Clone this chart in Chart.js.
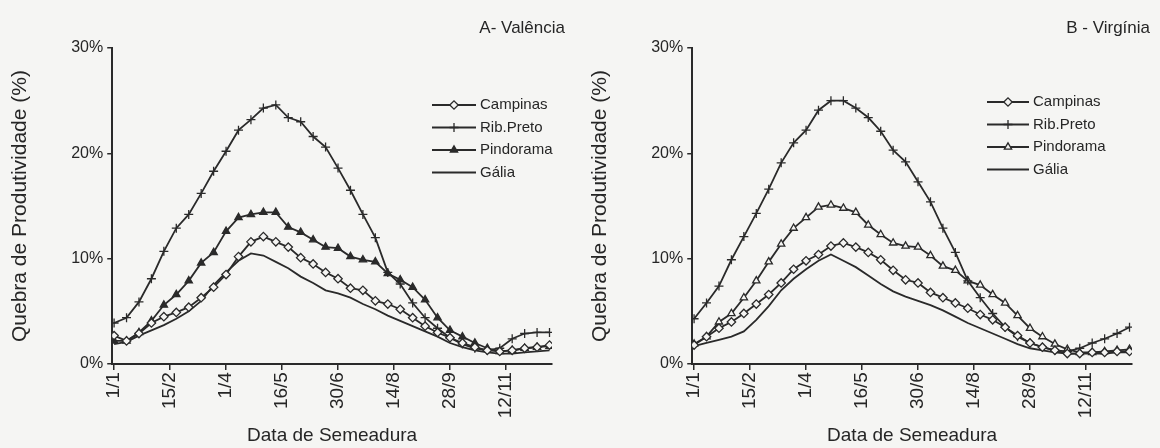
<!DOCTYPE html>
<html><head><meta charset="utf-8">
<script src="https://cdn.jsdelivr.net/npm/chart.js@4.4.1/dist/chart.umd.min.js"></script>
<style>
html,body{margin:0;padding:0;background:#f5f5f3;}
#wrap{display:flex;width:1160px;height:448px;}
.box{position:relative;width:580px;height:448px;}
canvas{display:block;}
</style></head><body>
<div id="wrap"><div class="box"><canvas id="cA" width="580" height="448"></canvas></div><div class="box"><canvas id="cB" width="580" height="448"></canvas></div></div>
<script>
// ---- data ----
const sowingDays = [1,11,21,31,41,51,61,71,81,91,101,111,121,131,141,151,161,171,181,191,201,211,221,231,241,251,261,271,281,291,301,311,321,331,341,351];
const tickDays = [1,46,91,136,181,226,271,316];
const tickLabels = ['1/1','15/2','1/4','16/5','30/6','14/8','28/9','12/11'];
const seriesNames = ['Campinas','Rib.Preto','Pindorama','Gália'];
const panelTitles = ['A- Valência','B - Virgínia'];

// A - Valência
const valCampinas = [2.7,2.2,2.9,3.9,4.5,4.9,5.4,6.3,7.3,8.5,10.2,11.6,12.1,11.6,11.1,10.1,9.5,8.7,8.1,7.2,7.0,6.0,5.7,5.2,4.4,3.6,3.0,2.5,2.0,1.6,1.3,1.2,1.3,1.5,1.6,1.8];
const valRibPreto = [3.9,4.4,5.9,8.1,10.7,12.9,14.2,16.2,18.3,20.2,22.2,23.2,24.3,24.6,23.4,23.0,21.6,20.6,18.6,16.5,14.2,12.0,8.7,7.6,5.8,4.4,3.4,2.5,1.9,1.5,1.3,1.5,2.4,2.9,3.0,3.0];
const valPindorama = [2.2,2.2,3.0,4.1,5.6,6.6,7.9,9.6,10.6,12.6,13.9,14.2,14.4,14.4,13.0,12.5,11.8,11.1,11.0,10.2,9.9,9.7,8.6,8.0,7.3,6.1,4.4,3.2,2.6,2.0,1.5,1.2,1.3,1.5,1.6,1.7];
const valGalia = [1.9,2.1,2.7,3.2,3.7,4.3,5.0,6.0,7.5,8.7,9.8,10.5,10.3,9.7,9.1,8.3,7.7,7.0,6.7,6.3,5.7,5.2,4.6,4.1,3.6,3.1,2.6,2.0,1.6,1.3,1.1,1.0,1.0,1.1,1.2,1.3];

// B - Virgínia
const virCampinas = [1.8,2.6,3.4,4.0,4.8,5.7,6.6,7.7,9.0,9.8,10.4,11.2,11.5,11.1,10.6,9.9,8.9,8.0,7.7,6.8,6.3,5.8,5.3,4.7,4.2,3.5,2.7,2.0,1.6,1.3,1.0,1.0,1.1,1.1,1.2,1.2];
const virRibPreto = [4.3,5.8,7.4,9.9,12.1,14.3,16.6,19.1,21.0,22.2,24.1,25.0,25.0,24.3,23.4,22.1,20.3,19.2,17.3,15.4,12.9,10.6,7.9,6.3,4.8,3.5,2.6,2.0,1.6,1.3,1.2,1.5,2.0,2.4,2.9,3.5];
const virPindorama = [1.9,2.6,4.0,4.8,6.3,7.9,9.7,11.4,12.9,13.9,14.9,15.1,14.8,14.4,13.2,12.3,11.5,11.2,11.1,10.3,9.3,8.9,7.9,7.5,6.6,5.8,4.6,3.4,2.6,1.9,1.4,1.1,1.1,1.2,1.3,1.4];
const virGalia = [1.7,2.0,2.3,2.6,3.1,4.2,5.5,7.0,8.1,9.0,9.8,10.4,9.8,9.2,8.4,7.6,6.9,6.4,6.0,5.6,5.1,4.5,3.9,3.4,2.9,2.4,1.9,1.5,1.3,1.1,1.0,1.0,1.0,1.0,1.1,1.1];

// ---- styling ----
const BG = '#f5f5f3';
const INK = '#2a2a2a';
const TXT = '#262626';
const FONT = '"Liberation Sans", Arial, sans-serif';

function pts(vals){ return sowingDays.map((d,i)=>({x:d,y:vals[i]})); }

const overlay = {
  id: 'overlay',
  afterDraw(chart, args, o) {
    const ctx = chart.ctx;
    ctx.save();
    ctx.fillStyle = TXT;
    ctx.font = '17px ' + FONT;
    ctx.textAlign = 'right';
    ctx.textBaseline = 'middle';
    ctx.fillText(o.title, o.titleX, o.titleY);
    ctx.font = '15px ' + FONT;
    ctx.textAlign = 'left';
    chart.data.datasets.forEach((ds, i) => {
      const y = o.legY + i * o.legGap;
      ctx.strokeStyle = ds.borderColor;
      ctx.lineWidth = ds.borderWidth;
      ctx.beginPath();
      ctx.moveTo(o.legX, y); ctx.lineTo(o.legX + o.legLen, y);
      ctx.stroke();
      if (ds.pointRadius > 0) {
        ctx.fillStyle = ds.pointBackgroundColor;
        ctx.strokeStyle = ds.pointBorderColor;
        ctx.lineWidth = ds.pointBorderWidth;
        Chart.helpers.drawPoint(ctx, {pointStyle: ds.pointStyle, radius: ds.pointRadius, borderWidth: ds.pointBorderWidth, rotation: 0}, o.legX + o.legLen/2, y);
      }
      ctx.fillStyle = TXT;
      ctx.fillText(ds.label, o.legX + o.legLen + 4, y);
    });
    ctx.restore();
  }
};

function makeChart(id, title, vals, triFill, ov) {
  const common = {borderColor: INK, borderWidth: 1.8, pointBorderColor: INK, pointBorderWidth: 1.3, tension: 0, fill: false};
  new Chart(document.getElementById(id), {
    type: 'line',
    data: { datasets: [
      Object.assign({label: seriesNames[0], data: pts(vals[0]), pointStyle: 'rectRot', pointRadius: 4.2, pointBackgroundColor: BG}, common),
      Object.assign({label: seriesNames[1], data: pts(vals[1]), pointStyle: 'cross', pointRadius: 4.5, pointBackgroundColor: INK}, common),
      Object.assign({label: seriesNames[2], data: pts(vals[2]), pointStyle: 'triangle', pointRadius: 4.2, pointBackgroundColor: triFill}, common),
      Object.assign({label: seriesNames[3], data: pts(vals[3]), pointStyle: false, pointRadius: 0, pointBackgroundColor: INK}, common)
    ]},
    options: {
      responsive: false, animation: false, devicePixelRatio: 1,
      layout: {padding: {left: 8, right: 28, top: 48, bottom: 1}},
      plugins: {legend: {display: false}, tooltip: {enabled: false}, overlay: Object.assign({title: title}, ov)},
      scales: {
        x: {
          type: 'linear', min: -0.5, max: 353,
          afterBuildTicks: (s) => { s.ticks = tickDays.map(v => ({value: v})); },
          ticks: {autoSkip: false, maxRotation: 90, minRotation: 90, padding: 2, color: TXT,
                  font: {size: 19, family: FONT},
                  callback: (v) => tickLabels[tickDays.indexOf(v)]},
          grid: {display: true, drawOnChartArea: false, drawTicks: true, tickLength: 6, color: INK, lineWidth: 1.5},
          border: {display: true, color: INK, width: 2},
          title: {display: true, text: 'Data de Semeadura', color: TXT, font: {size: 19, family: FONT}, padding: {top: 4, bottom: 0}}
        },
        y: {
          min: 0, max: 30,
          ticks: {stepSize: 10, padding: 4, color: TXT, font: {size: 16, family: FONT}, callback: (v) => v + '%'},
          grid: {display: true, drawOnChartArea: false, drawTicks: true, tickLength: 5, color: INK, lineWidth: 1.5},
          border: {display: true, color: INK, width: 2},
          title: {display: true, text: 'Quebra de Produtividade (%)', color: TXT, font: {size: 21, family: FONT}, padding: {top: 0, bottom: 34}}
        }
      }
    },
    plugins: [overlay]
  });
}

makeChart('cA', panelTitles[0], [valCampinas, valRibPreto, valPindorama, valGalia], INK,
  {titleX: 565, titleY: 28, legX: 432, legLen: 44, legY: 105, legGap: 22.5});
makeChart('cB', panelTitles[1], [virCampinas, virRibPreto, virPindorama, virGalia], BG,
  {titleX: 570, titleY: 28, legX: 407, legLen: 42, legY: 102, legGap: 22.5});
</script>
</body></html>
